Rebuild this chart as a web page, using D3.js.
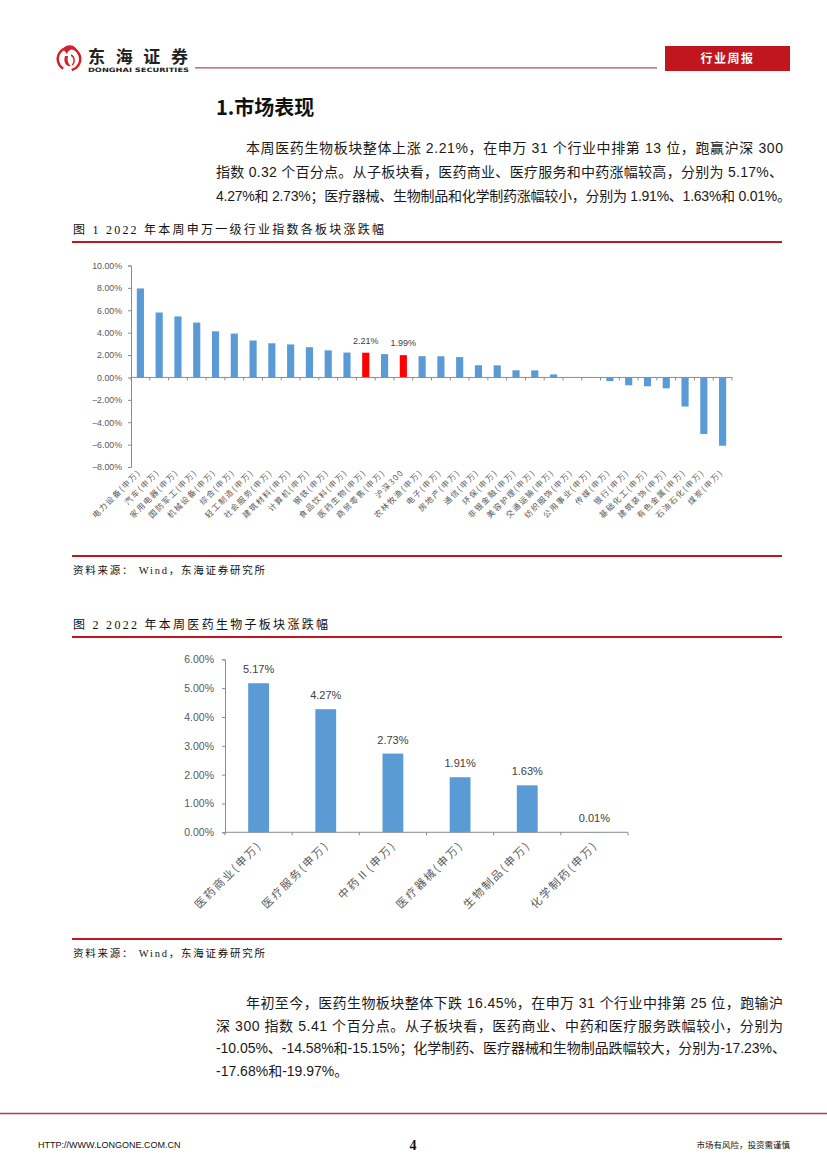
<!DOCTYPE html>
<html><head><meta charset="utf-8">
<script src="https://cdn.jsdelivr.net/npm/d3@7/dist/d3.min.js"></script>
<style>
html,body{margin:0;padding:0;background:#fff;}
svg{display:block;}
</style></head>
<body>
<svg id="page" width="827" height="1170"></svg>
<script>
// ---------- DATA ----------
const industries = ["电力设备(申万)","汽车(申万)","家用电器(申万)","国防军工(申万)","机械设备(申万)","综合(申万)","轻工制造(申万)","社会服务(申万)","建筑材料(申万)","计算机(申万)","钢铁(申万)","食品饮料(申万)","医药生物(申万)","商贸零售(申万)","沪深300","农林牧渔(申万)","电子(申万)","房地产(申万)","通信(申万)","环保(申万)","非银金融(申万)","美容护理(申万)","交通运输(申万)","纺织服饰(申万)","公用事业(申万)","传媒(申万)","银行(申万)","基础化工(申万)","建筑装饰(申万)","有色金属(申万)","石油石化(申万)","煤炭(申万)"];
const industryChange = [7.95,5.80,5.45,4.90,4.12,3.92,3.30,3.05,2.95,2.70,2.42,2.22,2.21,2.08,1.99,1.90,1.89,1.82,1.09,1.08,0.64,0.63,0.27,0.01,-0.05,-0.33,-0.70,-0.79,-0.97,-2.60,-5.05,-6.10];
const highlighted = ["医药生物(申万)","沪深300"];
const yTicks1 = [-8,-6,-4,-2,0,2,4,6,8,10];

const subSectors = ["医药商业(申万)","医疗服务(申万)","中药Ⅱ(申万)","医疗器械(申万)","生物制品(申万)","化学制药(申万)"];
const subChange = [5.17,4.27,2.73,1.91,1.63,0.01];
const yTicks2 = [0,1,2,3,4,5,6];
</script>
<script>
const svg = d3.select("#page");
const CJK = "'Noto Sans CJK SC','Noto Sans',sans-serif";
const NUM = "'Liberation Sans',Arial,'Noto Sans CJK SC',sans-serif";
const SERIF = "'Liberation Serif','Noto Sans CJK SC',serif";
const RED = "#C0161E";

// ---------- HEADER ----------
const logo = svg.append("g").attr("transform","translate(69,59)");
logo.append("path").attr("d", d3.arc()({innerRadius:10,outerRadius:12.5,startAngle:-2.6,endAngle:2.9})).attr("fill","#d4202a");
logo.append("path").attr("d","M-6,-10 C-2,-16 6,-14 8,-9 C3,-11 -1,-9 -2,-5 Z").attr("fill","#d4202a");
logo.append("path").attr("d","M-4,-3 C-6,3 -3,8 2,7 C-1,5 -2,1 -1,-3 Z").attr("fill","#d4202a");
logo.append("path").attr("d","M2,-4 C6,-2 6,4 3,6").attr("fill","none").attr("stroke","#d4202a").attr("stroke-width",1.4);

svg.append("text").attr("x",88).attr("y",63).text("东海证券")
  .attr("font-family",CJK).attr("font-size",17).attr("font-weight","bold").attr("fill","#222")
  .attr("textLength",100).attr("lengthAdjust","spacing");
svg.append("text").attr("x",88).attr("y",72).text("DONGHAI SECURITIES")
  .attr("font-family","'DejaVu Sans',sans-serif").attr("font-size",6).attr("font-weight","bold").attr("fill","#222")
  .attr("textLength",101).attr("lengthAdjust","spacingAndGlyphs");
svg.append("line").attr("x1",195).attr("x2",657).attr("y1",67.8).attr("y2",67.8).attr("stroke","#b04a63").attr("stroke-width",1.2);
svg.append("rect").attr("x",665).attr("y",46).attr("width",125).attr("height",25).attr("fill",RED);
svg.append("text").attr("x",727.5).attr("y",63).attr("text-anchor","middle").text("行业周报")
  .attr("font-family",CJK).attr("font-size",12).attr("font-weight","bold").attr("fill","#fff")
  .attr("letter-spacing",1.5);

// ---------- SECTION TITLE & PARAGRAPHS ----------
svg.append("text").attr("x",216).attr("y",115).text("1.市场表现")
  .attr("font-family",CJK).attr("font-size",20).attr("font-weight","bold").attr("fill","#111");

function para(lines, y0, dy){
  lines.forEach((l,i)=>{
    const t = svg.append("text").attr("x",l.x).attr("y",y0+i*dy).text(l.t)
      .attr("font-family",NUM).attr("font-size",14).attr("fill","#1a1a1a");
    if(l.w) t.attr("textLength",l.w).attr("lengthAdjust","spacing");
  });
}
para([
  {x:246,t:"本周医药生物板块整体上涨 2.21%，在申万 31 个行业中排第 13 位，跑赢沪深 300",w:537},
  {x:216,t:"指数 0.32 个百分点。从子板块看，医药商业、医疗服务和中药涨幅较高，分别为 5.17%、",w:567},
  {x:216,t:"4.27%和 2.73%；医疗器械、生物制品和化学制药涨幅较小，分别为 1.91%、1.63%和 0.01%。",w:575}
],153,24);

para([
  {x:246,t:"年初至今，医药生物板块整体下跌 16.45%，在申万 31 个行业中排第 25 位，跑输沪",w:537},
  {x:216,t:"深 300 指数 5.41 个百分点。从子板块看，医药商业、中药和医疗服务跌幅较小，分别为",w:567},
  {x:216,t:"-10.05%、-14.58%和-15.15%；化学制药、医疗器械和生物制品跌幅较大，分别为-17.23%、",w:570},
  {x:216,t:"-17.68%和-19.97%。"}
],1008,22.7);

// ---------- FIGURE FRAMES ----------
function caption(y, t, w){
  svg.append("text").attr("x",73).attr("y",y).text(t)
    .attr("font-family",SERIF).attr("font-size",12).attr("fill","#111")
    .attr("textLength",w).attr("lengthAdjust","spacing");
}
function redLine(y){
  svg.append("line").attr("x1",72).attr("x2",782).attr("y1",y).attr("y2",y).attr("stroke",RED).attr("stroke-width",2);
}
function source(y){
  svg.append("text").attr("x",73).attr("y",y).text("资料来源：  Wind，东海证券研究所")
    .attr("font-family",SERIF).attr("font-size",10.5).attr("fill","#111")
    .attr("textLength",192).attr("lengthAdjust","spacing");
}
caption(234,"图 1   2022 年本周申万一级行业指数各板块涨跌幅",311);
redLine(242);
redLine(556);
source(574);
caption(629,"图 2   2022 年本周医药生物子板块涨跌幅",255);
redLine(637);
redLine(939);
source(957);

// ---------- CHART 1 ----------
{
  const x = d3.scaleBand().domain(industries).range([131,732]).paddingInner(0.62).paddingOuter(0.31);
  const y = d3.scaleLinear().domain([-8,10]).range([467,265.5]);
  const g = svg.append("g");
  const axisColor = "#8c8c8c";
  const ya = g.append("g").attr("transform","translate(131,0)")
    .call(d3.axisLeft(y).tickValues(yTicks1).tickSize(3).tickFormat(d=>d3.format(".2f")(d)+"%"));
  ya.select(".domain").attr("stroke",axisColor);
  ya.selectAll(".tick line").attr("stroke",axisColor);
  ya.selectAll(".tick text").attr("font-family",NUM).attr("font-size",8.8).attr("fill","#595959").attr("dx",-3);
  g.selectAll("rect.b").data(industries).join("rect")
    .attr("x",d=>x(d)).attr("width",x.bandwidth())
    .attr("y",(d,i)=>y(Math.max(0,industryChange[i])))
    .attr("height",(d,i)=>Math.abs(y(industryChange[i])-y(0)))
    .attr("fill",d=>highlighted.includes(d)?"#FF0000":"#5B9BD5");
  g.append("line").attr("x1",131).attr("x2",732).attr("y1",y(0)).attr("y2",y(0)).attr("stroke",axisColor);
  g.selectAll("line.tk").data(d3.range(industries.length+1)).join("line")
    .attr("x1",i=>131+i*x.step()).attr("x2",i=>131+i*x.step())
    .attr("y1",y(0)).attr("y2",y(0)+3).attr("stroke",axisColor);
  industries.forEach((d,i)=>{
    if(highlighted.includes(d)){
      g.append("text").attr("x",x(d)+x.bandwidth()/2).attr("y",y(industryChange[i])-9)
        .attr("text-anchor","middle").text(industryChange[i].toFixed(2)+"%")
        .attr("font-family",NUM).attr("font-size",9).attr("fill","#404040");
    }
  });
  g.selectAll("text.cat").data(industries).join("text")
    .attr("transform",d=>`translate(${x(d)+x.bandwidth()/2+1},${473}) rotate(-45)`)
    .attr("text-anchor","end").text(d=>d)
    .attr("font-family",CJK).attr("font-size",8).attr("letter-spacing",1.4).attr("fill","#595959");
}

// ---------- CHART 2 ----------
{
  const x = d3.scaleBand().domain(subSectors).range([225,628]).paddingInner(0.69).paddingOuter(0.345);
  const y = d3.scaleLinear().domain([0,6]).range([832.3,659.3]);
  const g = svg.append("g");
  const axisColor = "#8c8c8c";
  const ya = g.append("g").attr("transform","translate(225,0)")
    .call(d3.axisLeft(y).tickValues(yTicks2).tickSize(3).tickFormat(d=>d3.format(".2f")(d)+"%"));
  ya.select(".domain").attr("stroke",axisColor);
  ya.selectAll(".tick line").attr("stroke",axisColor);
  ya.selectAll(".tick text").attr("font-family",NUM).attr("font-size",10.5).attr("fill","#595959").attr("dx",-5);
  g.selectAll("rect.b").data(subSectors).join("rect")
    .attr("x",d=>x(d)).attr("width",x.bandwidth())
    .attr("y",(d,i)=>y(subChange[i]))
    .attr("height",(d,i)=>y(0)-y(subChange[i]))
    .attr("fill","#5B9BD5");
  g.append("line").attr("x1",225).attr("x2",628).attr("y1",y(0)).attr("y2",y(0)).attr("stroke",axisColor);
  g.selectAll("line.tk").data(d3.range(subSectors.length+1)).join("line")
    .attr("x1",i=>225+i*x.step()).attr("x2",i=>225+i*x.step())
    .attr("y1",y(0)).attr("y2",y(0)+3).attr("stroke",axisColor);
  g.selectAll("text.v").data(subSectors).join("text")
    .attr("x",d=>x(d)+x.bandwidth()/2).attr("y",(d,i)=>y(subChange[i])-10)
    .attr("text-anchor","middle").text((d,i)=>subChange[i].toFixed(2)+"%")
    .attr("font-family",NUM).attr("font-size",11).attr("fill","#404040");
  g.selectAll("text.cat").data(subSectors).join("text")
    .attr("transform",d=>`translate(${x(d)+x.bandwidth()/2+4},${846}) rotate(-45)`)
    .attr("text-anchor","end").text(d=>d)
    .attr("font-family",CJK).attr("font-size",11).attr("letter-spacing",2).attr("fill","#595959");
}

// ---------- FOOTER ----------
svg.append("line").attr("x1",0).attr("x2",827).attr("y1",1113.5).attr("y2",1113.5).attr("stroke","#b83a45").attr("stroke-width",1.3);
svg.append("text").attr("x",38).attr("y",1148).text("HTTP://WWW.LONGONE.COM.CN")
  .attr("font-family",NUM).attr("font-size",9).attr("fill","#111");
svg.append("text").attr("x",413).attr("y",1150).attr("text-anchor","middle").text("4")
  .attr("font-family",SERIF).attr("font-size",14).attr("font-weight","bold").attr("fill","#111");
svg.append("text").attr("x",790).attr("y",1148).attr("text-anchor","end").text("市场有风险，投资需谨慎")
  .attr("font-family",CJK).attr("font-size",8.5).attr("fill","#111");
</script>
</body></html>
